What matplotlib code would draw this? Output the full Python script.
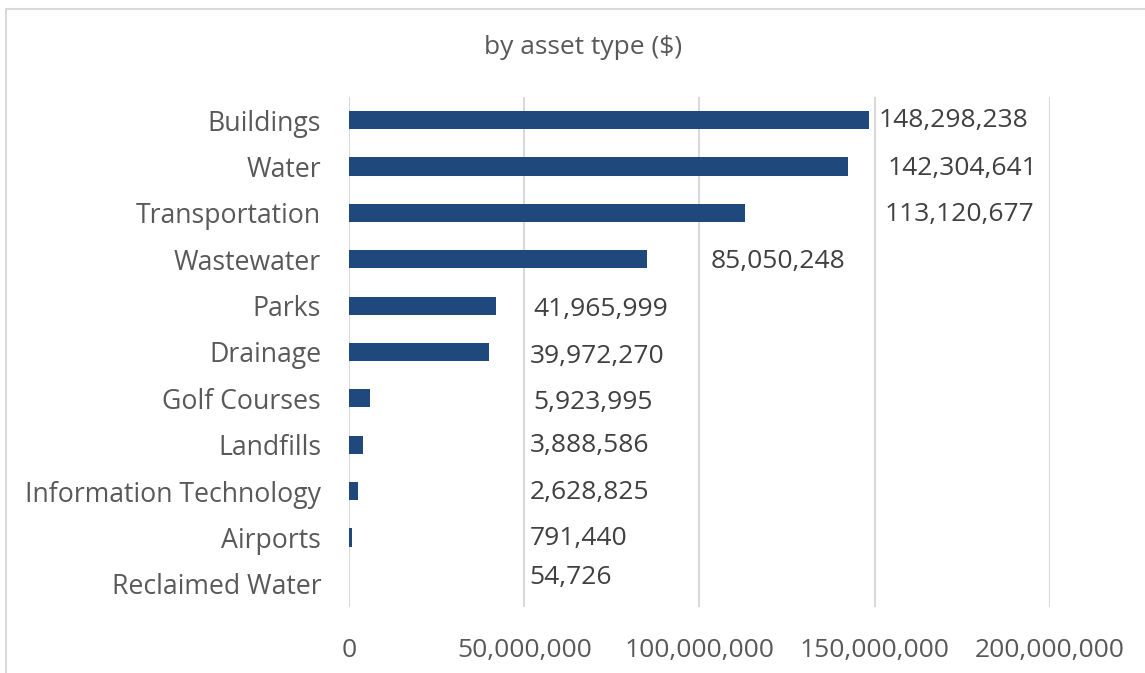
import matplotlib.pyplot as plt
from matplotlib.patches import Rectangle
from matplotlib.ticker import FuncFormatter

# Data: replacement value by asset type ($)
categories = ['Buildings', 'Water', 'Transportation', 'Wastewater', 'Parks',
              'Drainage', 'Golf Courses', 'Landfills', 'Information Technology',
              'Airports', 'Reclaimed Water']
values = [148298238, 142304641, 113120677, 85050248, 41965999,
          39972270, 5923995, 3888586, 2628825, 791440, 54726]

plt.rcParams['font.family'] = ['Open Sans', 'DejaVu Sans']

fig = plt.figure(figsize=(11.45, 6.73), dpi=100)
ax = fig.add_axes([0.3048, 0.098, 0.917 - 0.3048, 0.856 - 0.098])

# chart border (runs off the right and bottom edges)
fig.patches.append(Rectangle((6 / 1145, -0.1), 1.2, 1.1 - 9 / 673,
                             transform=fig.transFigure, fill=False,
                             edgecolor='#d9d9d9', linewidth=1.5))

ypos = list(range(len(categories)))
ax.barh(ypos, values, height=0.39, color='#1f497d', zorder=3)
ax.set_ylim(len(categories) - 0.5, -0.5)
ax.set_xlim(0, 200000000)
ax.set_xticks([0, 50000000, 100000000, 150000000, 200000000])
ax.xaxis.set_major_formatter(FuncFormatter(lambda v, p: f'{int(v):,}'))
ax.set_yticks(ypos)
ax.set_yticklabels(categories)
ax.tick_params(axis='both', length=0, labelsize=19, labelcolor='#595959')
ax.tick_params(axis='y', labelsize=19.2, pad=20)
ax.tick_params(axis='x', pad=22)
ax.grid(axis='x', color='#d9d9d9', linewidth=1.5, zorder=0)
for s in ax.spines.values():
    s.set_visible(False)

# data labels were dragged around in the original, so place them by hand
label_x = [151.0e6, 153.7e6, 152.8e6, 103.2e6, 52.7e6, 51.5e6,
           52.7e6, 51.5e6, 51.5e6, 51.5e6, 51.5e6]
label_dy = [0, 0.04, 0.04, 0.04, 0.09, 0.09, 0.1, 0.02, 0.02, 0.02, -0.13]
for i, v in enumerate(values):
    ax.text(label_x[i], i + label_dy[i], f'{v:,}', va='center', ha='left',
            fontsize=19, color='#404040', zorder=4)

fig.text(583 / 1145, 1 - 48 / 673, 'by asset type ($)', ha='center',
         va='center', fontsize=19, color='#595959')

fig.savefig('out.png', dpi=100)
